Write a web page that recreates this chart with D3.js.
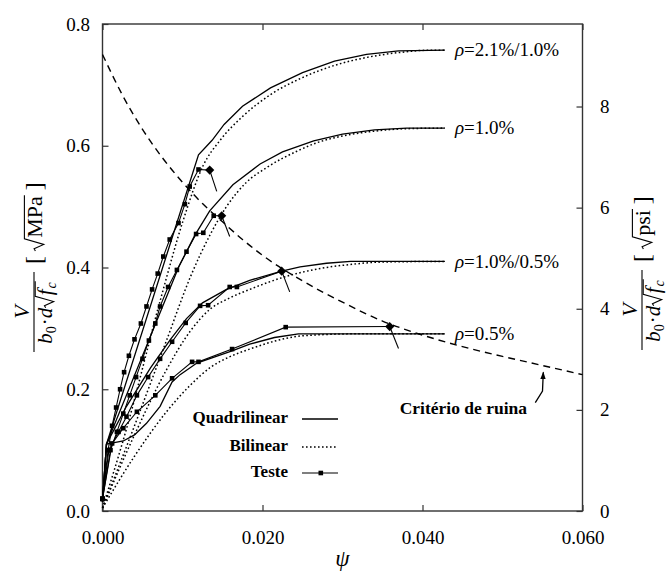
<!DOCTYPE html>
<html lang="pt">
<head>
<meta charset="UTF-8">
<title>Critério de ruína</title>
<style>
  body { margin: 0; background: #fff; }
  svg { display: block; }
  text { font-family: "Liberation Serif", "Times New Roman", serif; fill: #000; }
  .frame { fill: none; stroke: #333; stroke-width: 1.4px; }
  .axis line { stroke: #333; stroke-width: 1.2px; }
  .axis path { display: none; }
  .quad { fill: none; stroke: #000; stroke-width: 1.3px; }
  .bil { fill: none; stroke: #000; stroke-width: 1.5px; stroke-dasharray: 1.6 2.4; }
  .test { fill: none; stroke: #000; stroke-width: 1.1px; }
  .ruina { fill: none; stroke: #000; stroke-width: 1.4px; stroke-dasharray: 7 5; }
  .leg { font-size: 17px; font-weight: bold; }
</style>
</head>
<body>
<script src="https://cdn.jsdelivr.net/npm/d3@7"></script>
<script>

// ---- data (psi, V/(b0 d sqrt(fc)) in sqrt(MPa)) ----
var xTicks = [0, 0.02, 0.04, 0.06];
var yTicks = [0, 0.2, 0.4, 0.6, 0.8];
var psiTicks = [0, 2, 4, 6, 8];

var rhoLabels = ["ρ=2.1%/1.0%", "ρ=1.0%", "ρ=1.0%/0.5%", "ρ=0.5%"];
var rhoLevels = [0.757, 0.629, 0.41, 0.291];

var q21 = [[0,0.015],[0.0005,0.11],[0.012,0.585],[0.0137,0.609],[0.0152,0.635],[0.0175,0.665],[0.021,0.695],[0.025,0.72],[0.029,0.739],[0.033,0.75],[0.037,0.756],[0.0428,0.757]];
var q10 = [[0,0.015],[0.0005,0.11],[0.0095,0.40],[0.0115,0.452],[0.0134,0.493],[0.0163,0.536],[0.0197,0.57],[0.0225,0.59],[0.0264,0.608],[0.030,0.619],[0.034,0.626],[0.038,0.629],[0.0428,0.629]];
var q105 = [[0,0.015],[0.0005,0.11],[0.003,0.172],[0.006,0.235],[0.0085,0.282],[0.0105,0.316],[0.0125,0.342],[0.0155,0.364],[0.0184,0.379],[0.0224,0.394],[0.0247,0.401],[0.028,0.407],[0.031,0.41],[0.0428,0.41]];
var q05 = [[0,0.015],[0.0005,0.11],[0.0013,0.112],[0.0026,0.115],[0.004,0.125],[0.0055,0.144],[0.0072,0.172],[0.0087,0.212],[0.0097,0.224],[0.0118,0.243],[0.0162,0.263],[0.0184,0.274],[0.0215,0.285],[0.0245,0.291],[0.0428,0.291]];

var b21 = [[0,0.005],[0.003,0.135],[0.0072,0.345],[0.0101,0.478],[0.0126,0.568],[0.0147,0.609],[0.0175,0.648],[0.021,0.684],[0.025,0.712],[0.029,0.732],[0.033,0.745],[0.037,0.753],[0.041,0.757],[0.0428,0.757]];
var b10 = [[0,0.005],[0.004,0.14],[0.008,0.28],[0.011,0.385],[0.0135,0.455],[0.0155,0.5],[0.018,0.54],[0.0205,0.564],[0.0243,0.591],[0.0268,0.605],[0.030,0.616],[0.034,0.624],[0.038,0.628],[0.0428,0.629]];
var b105 = [[0,0.005],[0.004,0.125],[0.008,0.232],[0.011,0.296],[0.0134,0.331],[0.0159,0.35],[0.0184,0.364],[0.0234,0.387],[0.0275,0.399],[0.031,0.405],[0.035,0.409],[0.0428,0.41]];
var b05 = [[0,0.005],[0.004,0.09],[0.008,0.163],[0.011,0.207],[0.0135,0.236],[0.016,0.254],[0.0184,0.266],[0.0215,0.279],[0.0239,0.286],[0.028,0.29],[0.031,0.291],[0.0428,0.291]];

// test points, last one is the failure point (diamond)
var t21 = [[0,0.02],[0.0007,0.1],[0.0012,0.14],[0.0017,0.17],[0.0022,0.2],[0.0027,0.228],[0.0033,0.255],[0.004,0.282],[0.0048,0.308],[0.0055,0.336],[0.0062,0.364],[0.0069,0.39],[0.0076,0.418],[0.0084,0.446],[0.0095,0.473],[0.0103,0.504],[0.0109,0.533],[0.0120,0.561],[0.0134,0.560]];
var t10 = [[0,0.02],[0.001,0.1],[0.0018,0.13],[0.0026,0.16],[0.0034,0.19],[0.0042,0.22],[0.005,0.25],[0.0058,0.28],[0.0066,0.308],[0.0072,0.336],[0.0082,0.368],[0.0093,0.396],[0.0105,0.426],[0.0117,0.455],[0.0126,0.457],[0.0139,0.485],[0.0149,0.485]];
var t105 = [[0,0.02],[0.0008,0.1],[0.002,0.13],[0.003,0.155],[0.0043,0.19],[0.0057,0.22],[0.0072,0.25],[0.0087,0.278],[0.0104,0.309],[0.0122,0.337],[0.0132,0.338],[0.0159,0.368],[0.0168,0.368],[0.0224,0.394]];
var t05 = [[0,0.02],[0.0012,0.111],[0.0026,0.136],[0.0043,0.163],[0.0066,0.19],[0.0087,0.218],[0.0112,0.245],[0.012,0.245],[0.0162,0.266],[0.0229,0.302],[0.0359,0.303]];
// end of the short slash below each failure point
var failEnds = [[0.01428,0.525],[0.0159,0.451],[0.0234,0.360],[0.037,0.267]];

var ruina = [[0,0.75],[0.0025,0.683],[0.005,0.627],[0.0075,0.58],[0.01,0.54],[0.0125,0.505],[0.015,0.475],[0.0175,0.446],[0.02,0.42],[0.025,0.378],[0.03,0.343],[0.035,0.312],[0.04,0.289],[0.045,0.27],[0.05,0.254],[0.055,0.239],[0.06,0.224]];

// ---- layout ----
var W = 671, H = 574;
var m = {left: 102.5, top: 24, right: 582.5, bottom: 511};

var x = d3.scaleLinear().domain([0, 0.06]).range([m.left, m.right]);
var y = d3.scaleLinear().domain([0, 0.8]).range([m.bottom, m.top]);
var yPsi = d3.scaleLinear().domain([0, 0.8 * 12.04]).range([m.bottom, m.top]);

var svg = d3.select("body").append("svg")
    .attr("width", W)
    .attr("height", H);

svg.append("rect").attr("width", W).attr("height", H).attr("fill", "#fff");

// axes
function styleAxis(g) {
  g.attr("class", "axis")
    .attr("font-family", null)
    .attr("font-size", null);
  g.selectAll("text").style("font-size", "19px");
}

svg.append("g")
    .attr("transform", "translate(" + m.left + ",0)")
    .call(d3.axisLeft(y).tickValues(yTicks).tickFormat(d3.format(".1f")).tickSize(-6).tickPadding(12.5))
    .call(styleAxis);

svg.append("g")
    .attr("transform", "translate(" + m.right + ",0)")
    .call(d3.axisRight(yPsi).tickValues(psiTicks).tickFormat(d3.format("d")).tickSize(-6).tickPadding(17.5))
    .call(styleAxis);

svg.append("g")
    .attr("transform", "translate(0," + m.bottom + ")")
    .call(d3.axisBottom(x).tickValues(xTicks).tickFormat(d3.format(".3f")).tickSize(-6).tickPadding(20))
    .call(styleAxis);

svg.append("g")
    .attr("transform", "translate(0," + m.top + ")")
    .call(d3.axisTop(x).tickValues(xTicks).tickFormat("").tickSize(-6))
    .call(styleAxis);

svg.append("rect")
    .attr("class", "frame")
    .attr("x", m.left).attr("y", m.top)
    .attr("width", m.right - m.left).attr("height", m.bottom - m.top);

// curves
var line = d3.line().x(function(d){ return x(d[0]); }).y(function(d){ return y(d[1]); });
var smooth = d3.line().x(function(d){ return x(d[0]); }).y(function(d){ return y(d[1]); }).curve(d3.curveMonotoneX);

svg.selectAll(".bil").data([b21, b10, b105, b05]).enter()
  .append("path").attr("class", "bil").attr("d", smooth);

svg.selectAll(".quad").data([q21, q10, q105, q05]).enter()
  .append("path").attr("class", "quad").attr("d", line);

svg.append("path").datum(ruina).attr("class", "ruina").attr("d", smooth);

var tests = [t21, t10, t105, t05];
var tg = svg.selectAll(".tg").data(tests).enter().append("g").attr("class", "tg");

tg.append("path").attr("class", "test").attr("d", line);

tg.append("path").attr("class", "test")
  .attr("d", function(d, i){ return line([d[d.length - 1], failEnds[i]]); });

tg.selectAll("rect").data(function(d){ return d.slice(0, -1); }).enter()
  .append("rect")
    .attr("x", function(d){ return x(d[0]) - 2.3; })
    .attr("y", function(d){ return y(d[1]) - 2.3; })
    .attr("width", 4.6).attr("height", 4.6)
    .attr("fill", "#000");

tg.append("path")
  .attr("d", d3.symbol().type(d3.symbolSquare).size(42))
  .attr("transform", function(d){
    var p = d[d.length - 1];
    return "translate(" + x(p[0]) + "," + y(p[1]) + ") rotate(45)";
  })
  .attr("fill", "#000");

// rho labels
svg.selectAll(".rho").data(rhoLabels).enter()
  .append("text")
    .attr("class", "rho")
    .attr("x", x(0.0428) + 10)
    .attr("y", function(d, i){ return y(rhoLevels[i]); })
    .attr("dy", "0.33em")
    .style("font-size", "19px")
    .each(function(d){
      var t = d3.select(this);
      t.append("tspan").style("font-style", "italic").text(d.slice(0, 1));
      t.append("tspan").text(d.slice(1));
    });

// legend
var legend = [
  {label: "Quadrilinear", cls: "quad", y: 419},
  {label: "Bilinear", cls: "bil", y: 447},
  {label: "Teste", cls: "test", y: 473}
];
var lg = svg.selectAll(".lg").data(legend).enter().append("g").attr("class", "lg");
lg.append("text").attr("class", "leg")
  .attr("x", 288).attr("y", function(d){ return d.y + 4; })
  .attr("text-anchor", "end").text(function(d){ return d.label; });
lg.append("line")
  .attr("class", function(d){ return d.cls; })
  .attr("x1", 302).attr("x2", 338)
  .attr("y1", function(d){ return d.y; }).attr("y2", function(d){ return d.y; });
svg.append("rect").attr("x", 318.5).attr("y", 473 - 2.3).attr("width", 4.6).attr("height", 4.6).attr("fill", "#000");

// failure criterion annotation
var defs = svg.append("defs");
defs.append("marker")
    .attr("id", "arr").attr("viewBox", "0 0 10 10")
    .attr("refX", 9).attr("refY", 5)
    .attr("markerWidth", 6).attr("markerHeight", 6)
    .attr("orient", "auto")
  .append("path").attr("d", "M0,1.5L10,5L0,8.5Z").attr("fill", "#000");

svg.append("path")
  .attr("d", line([[0.0541, 0.178], [0.055, 0.197], [0.0551, 0.228]]))
  .attr("fill", "none").attr("stroke", "#000").attr("stroke-width", 1.3)
  .attr("marker-end", "url(#arr)");

svg.append("text").attr("class", "leg")
  .attr("x", 527).attr("y", 414)
  .attr("text-anchor", "end")
  .style("font-size", "17.5px")
  .text("Critério de ruina");

// x label
svg.append("text")
  .attr("x", (m.left + m.right) / 2).attr("y", 566)
  .attr("text-anchor", "middle")
  .style("font-size", "23px").style("font-style", "italic")
  .text("ψ");

// lay out text pieces left to right; {rad: [...]} draws a square root over its pieces
function seq(g, parts, x0, base) {
  var xx = x0;
  parts.forEach(function(p){
    if (p.rad) {
      var s = p.size, top = base - 0.8 * s, start = xx;
      var end = seq(g, p.rad, xx + 0.6 * s, base);
      g.append("path")
        .attr("d", "M" + start + "," + (base - 0.3 * s) +
                   "L" + (start + 0.1 * s) + "," + (base - 0.36 * s) +
                   "L" + (start + 0.3 * s) + "," + (base + 0.08 * s) +
                   "L" + (start + 0.55 * s) + "," + top +
                   "L" + (end + 1) + "," + top)
        .attr("fill", "none").attr("stroke", "#000").attr("stroke-width", 1.1);
      xx = end + 2 + (p.gap || 0);
    } else {
      var t = g.append("text")
        .attr("x", xx).attr("y", base + (p.dy || 0))
        .style("font-size", p.size + "px")
        .style("font-style", p.it ? "italic" : "normal")
        .text(p.t);
      xx += t.node().getComputedTextLength() + (p.gap || 0);
    }
  });
  return xx;
}

// rotated y labels: V / (b0·d·√fc) [√unit]
function yLabel(cx, cy, unit) {
  var g = svg.append("g").attr("transform", "translate(" + cx + "," + cy + ") rotate(-90)");
  g.append("text").attr("x", 0).attr("y", -8).attr("text-anchor", "middle")
    .style("font-size", "22px").style("font-style", "italic").text("V");
  g.append("line").attr("x1", -40).attr("x2", 40).attr("y1", -3).attr("y2", -3)
    .attr("stroke", "#000").attr("stroke-width", 1.1);
  var den = g.append("g");
  var w = seq(den, [
    {t: "b", it: 1, size: 21},
    {t: "0", size: 14, dy: 4, gap: 1},
    {t: "·", size: 21},
    {t: "d", it: 1, size: 21},
    {rad: [{t: "f", it: 1, size: 21, gap: 1}, {t: "c", it: 1, size: 14, dy: 4}], size: 21}
  ], 0, 15);
  den.attr("transform", "translate(" + (-w / 2) + ",0)");
  seq(g, [
    {t: "[", size: 24, gap: 5},
    {rad: [{t: unit, size: 22}], size: 22, gap: 4},
    {t: "]", size: 24}
  ], 48, 5);
}
yLabel(37, 312, "MPa");
yLabel(645, 310, "psi");

</script>
</body>
</html>
